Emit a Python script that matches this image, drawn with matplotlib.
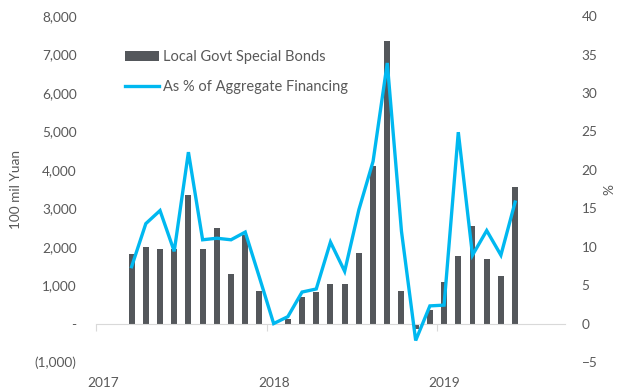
import matplotlib.pyplot as plt
import matplotlib.transforms as mtransforms
import numpy as np

plt.rcParams['font.family'] = ['Lato', 'DejaVu Sans']

# Monthly data, Mar 2017 - Jun 2019
months = ["2017-03", "2017-04", "2017-05", "2017-06", "2017-07", "2017-08",
          "2017-09", "2017-10", "2017-11", "2017-12", "2018-01", "2018-02",
          "2018-03", "2018-04", "2018-05", "2018-06", "2018-07", "2018-08",
          "2018-09", "2018-10", "2018-11", "2018-12", "2019-01", "2019-02",
          "2019-03", "2019-04", "2019-05", "2019-06"]
special_bonds = [1800, 2000, 1930, 1950, 3340, 1930, 2490, 1300, 2300, 850,
                 0, 110, 680, 820, 1020, 1020, 1840, 4100, 7360, 850,
                 -150, 350, 1090, 1760, 2530, 1690, 1230, 3550]
pct_of_afre = [7.4, 13.0, 14.7, 9.4, 22.3, 10.9, 11.1, 10.9, 11.9, 6.0,
               0.0, 0.9, 4.1, 4.5, 10.6, 6.8, 14.8, 21.1, 33.9, 12.0,
               -2.2, 2.3, 2.4, 24.9, 8.9, 12.1, 8.9, 15.8]
year_labels = ["2017", "2018", "2019"]

# month index since Jan 2017, bars sit in the middle of each month slot
idx = np.array([(int(m[:4]) - 2017) * 12 + int(m[5:]) - 1 for m in months])
xc = idx + 0.5

grey = '#595959'
fig = plt.figure(figsize=(6.2, 3.92), dpi=100)
ax = fig.add_axes([0.155, 0.0765, 0.756, 0.8825])
ax2 = ax.twinx()

ax.bar(xc, special_bonds, width=0.42, color='#54575B', label='Local Govt Special Bonds')
ax2.plot(xc, pct_of_afre, color='#00B8F0', lw=2.4, solid_joinstyle='miter',
         label='As % of Aggregate Financing')

ax.set_xlim(0, 33)
ax.set_ylim(-1000, 8000)
ax2.set_ylim(-5, 40)
ax.set_yticks(np.arange(-1000, 8001, 1000))
ax.set_yticklabels(['(1,000)', '-'] + [f'{v:,}' for v in range(1000, 8001, 1000)])
ax2.set_yticks(np.arange(-5, 41, 5))

for a in (ax, ax2):
    for s in ('top', 'left', 'right', 'bottom'):
        a.spines[s].set_visible(False)
    a.tick_params(axis='y', length=0, labelsize=9.8, colors=grey)

ax.tick_params(axis='y', pad=14)
ax2.tick_params(axis='y', pad=12)

ax.spines['bottom'].set_visible(True)
ax.spines['bottom'].set_position(('data', 0))
ax.spines['bottom'].set_color('#D9D9D9')
ax.set_xticks([0, 12, 24])
ax.tick_params(axis='x', direction='out', length=5, color='#D9D9D9', labelbottom=False)

trans = mtransforms.blended_transform_factory(ax.transData, ax.transAxes)
for i, lab in enumerate(year_labels):
    ax.text(i * 12 + 0.5, -0.06, lab, transform=trans, ha='center', va='center',
            fontsize=9.8, color=grey)

ax.set_ylabel('100 mil Yuan', fontsize=9.8, color=grey, labelpad=9)
ax2.set_ylabel('%', fontsize=9.8, color=grey, labelpad=4)

h1, l1 = ax.get_legend_handles_labels()
h2, l2 = ax2.get_legend_handles_labels()
leg = ax2.legend(h1 + h2, l1 + l2, loc='upper left', bbox_to_anchor=(0.033, 0.94),
                 frameon=False, fontsize=10.5, handlelength=2.35, labelspacing=1.1,
                 handletextpad=0.25)
for t in leg.get_texts():
    t.set_color(grey)

fig.savefig('out.png', dpi=100)
